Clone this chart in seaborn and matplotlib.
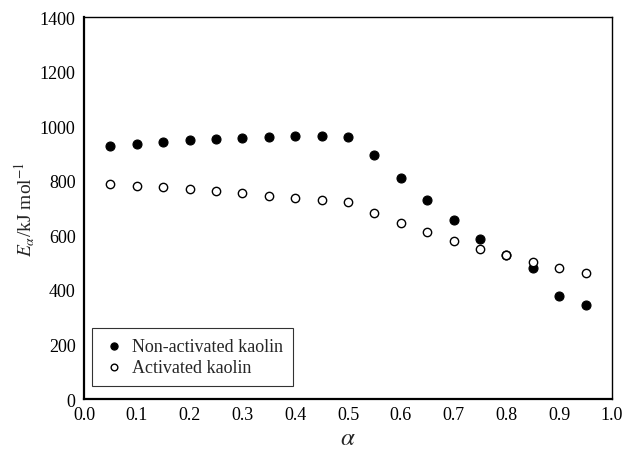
import numpy as np
import pandas as pd
import matplotlib
matplotlib.use("Agg")
import matplotlib.pyplot as plt
import seaborn as sns

alpha = [0.05, 0.10, 0.15, 0.20, 0.25, 0.30, 0.35, 0.40, 0.45, 0.50,
         0.55, 0.60, 0.65, 0.70, 0.75, 0.80, 0.85, 0.90, 0.95]
e_non_activated = [928, 934, 942, 948, 952, 957, 959, 963, 963, 960,
                   893, 810, 729, 655, 587, 528, 481, 376, 344]
e_activated = [787, 782, 776, 768, 762, 754, 745, 737, 729, 721,
               681, 645, 612, 580, 551, 528, 501, 479, 462]
series_names = ["Non-activated kaolin", "Activated kaolin"]
x_ticks = [0.0, 0.1, 0.2, 0.3, 0.4, 0.5, 0.6, 0.7, 0.8, 0.9, 1.0]
y_ticks = [0, 200, 400, 600, 800, 1000, 1200, 1400]

df = pd.DataFrame({
    "alpha": alpha * 2,
    "E": e_non_activated + e_activated,
    "sample": [series_names[0]] * len(alpha) + [series_names[1]] * len(alpha),
})

sns.set_style("white")
plt.rcParams["font.family"] = ["Liberation Serif", "DejaVu Serif"]
plt.rcParams["mathtext.fontset"] = "stix"

fig = plt.figure(figsize=(6.22, 4.52), dpi=100)
ax = fig.add_axes([0.135, 0.115, 0.849, 0.845])

sns.scatterplot(data=df[df["sample"] == series_names[0]], x="alpha", y="E",
                ax=ax, marker="o", s=42, color="black", edgecolor="black",
                linewidth=0.8, label=series_names[0], zorder=3)
sns.scatterplot(data=df[df["sample"] == series_names[1]], x="alpha", y="E",
                ax=ax, marker="o", s=36, color="white", edgecolor="black",
                linewidth=1.0, label=series_names[1], zorder=4)

ax.set_xlim(0, 1.0)
ax.set_ylim(0, 1400)
ax.set_xticks(x_ticks)
ax.set_xticklabels([f"{t:.1f}" for t in x_ticks])
ax.set_yticks(y_ticks)
ax.set_yticklabels([str(t) for t in y_ticks])
ax.tick_params(axis="both", direction="inout", length=6, width=1.2,
               labelsize=13, colors="black", pad=2)
ax.tick_params(axis="y", pad=3)

for side in ["left", "bottom"]:
    ax.spines[side].set_linewidth(1.6)
    ax.spines[side].set_color("black")
for side in ["top", "right"]:
    ax.spines[side].set_linewidth(1.0)
    ax.spines[side].set_color("black")

ax.set_xlabel(r"$\alpha$", fontsize=18, labelpad=3)
ax.set_ylabel(r"$E_{\alpha}$/kJ mol$^{-1}$", fontsize=14, labelpad=2)

leg = ax.legend(loc="lower left", bbox_to_anchor=(0.015, 0.034),
                frameon=True, fancybox=False, fontsize=13,
                handletextpad=0.25, handlelength=1.4, borderpad=0.55,
                labelspacing=0.25, borderaxespad=0, markerscale=0.8)
leg.get_frame().set_edgecolor("black")
leg.get_frame().set_linewidth(0.8)

fig.savefig("out.png", dpi=100)
